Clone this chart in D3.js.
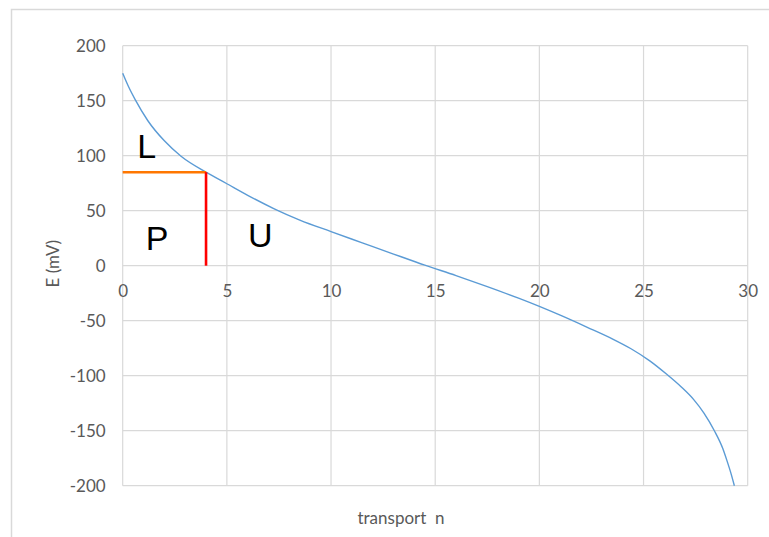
<!DOCTYPE html>
<html>
<head>
<meta charset="utf-8">
<script src="https://cdn.jsdelivr.net/npm/d3@7"></script>
<style>
  html, body { margin: 0; padding: 0; background: #ffffff; }
  svg { display: block; }
</style>
</head>
<body>
<svg id="chart" width="769" height="537"></svg>
<script>
// ---- data ----
const transportN = [0, 0.3, 0.6, 1.2, 2.0, 2.8, 4.0, 5.0, 6.0, 7.3, 8.5, 10, 11.5, 13, 14.5, 16, 17.5, 19, 20, 21, 22.3, 23.5, 24.4, 25.3, 26.1, 26.8, 27.4, 27.9, 28.4, 28.8, 29.0, 29.2, 29.36];
const potentialE = [175, 162, 151, 132, 113.5, 99.5, 85, 74.5, 64, 51.5, 41.5, 31, 20.8, 10.6, 0.5, -9, -19, -29.5, -37, -45, -56, -66.5, -75.5, -86.5, -98.5, -110, -121.5, -134, -150, -166, -177, -189, -200];
const xTicks = [0, 5, 10, 15, 20, 25, 30];
const yTicks = [-200, -150, -100, -50, 0, 50, 100, 150, 200];
const markerN = [0, 4];      // orange horizontal line: from n=0 to n=4
const markerE = [0, 85];     // red vertical line: from E=0 to E=85
const regionLabels = ["L", "P", "U"];
const regionN = [1.15, 1.65, 6.6];
const regionE = [98, 14, 17];

// ---- layout ----
const svg = d3.select("#chart");
const pLeft = 122.7, pRight = 747.7, pTop = 45.7, pBottom = 485.7;
const x = d3.scaleLinear().domain([0, 30]).range([pLeft, pRight]);
const y = d3.scaleLinear().domain([-200, 200]).range([pBottom, pTop]);
const font = "Lato, 'Open Sans', sans-serif";

// outer frame
svg.append("rect")
  .attr("x", 11.5).attr("y", 9.5).attr("width", 820).attr("height", 600)
  .attr("fill", "#ffffff").attr("stroke", "#d9d9d9").attr("stroke-width", 1.5);

// gridlines
svg.append("g").selectAll("line").data(yTicks).join("line")
  .attr("x1", pLeft).attr("x2", pRight)
  .attr("y1", d => y(d)).attr("y2", d => y(d))
  .attr("stroke", "#d9d9d9").attr("stroke-width", 1.2);
svg.append("g").selectAll("line").data(xTicks).join("line")
  .attr("y1", pTop).attr("y2", pBottom)
  .attr("x1", d => x(d)).attr("x2", d => x(d))
  .attr("stroke", "#d9d9d9").attr("stroke-width", 1.2);

// axes via d3 axis generators (labels only)
const fmt = d => String(d);
const yAxis = svg.append("g").attr("transform", `translate(${pLeft - 17},0)`)
  .call(d3.axisLeft(y).tickValues(yTicks).tickSize(0).tickPadding(0).tickFormat(fmt));
yAxis.select(".domain").remove();
yAxis.selectAll("text").attr("font-family", font).attr("font-size", 17).attr("fill", "#595959");

const xAxis = svg.append("g").attr("transform", `translate(0,${y(0)})`)
  .call(d3.axisBottom(x).tickValues(xTicks).tickSize(0).tickPadding(19).tickFormat(fmt));
xAxis.select(".domain").remove();
xAxis.selectAll("text").attr("font-family", font).attr("font-size", 17).attr("fill", "#595959");

// curve
const line = d3.line().x(d => x(d[0])).y(d => y(d[1])).curve(d3.curveMonotoneX);
svg.append("path")
  .datum(transportN.map((n, i) => [n, potentialE[i]]))
  .attr("d", line)
  .attr("fill", "none").attr("stroke", "#5B9BD5").attr("stroke-width", 1.4);

// marker lines
svg.append("line")
  .attr("x1", x(markerN[0])).attr("x2", x(markerN[1]))
  .attr("y1", y(markerE[1])).attr("y2", y(markerE[1]))
  .attr("stroke", "#FF7700").attr("stroke-width", 2.6);
svg.append("line")
  .attr("x1", x(markerN[1])).attr("x2", x(markerN[1]))
  .attr("y1", y(markerE[0])).attr("y2", y(markerE[1]))
  .attr("stroke", "#FF0000").attr("stroke-width", 2.6);

// region labels
svg.append("g").selectAll("text").data(regionLabels).join("text")
  .attr("x", (d, i) => x(regionN[i]))
  .attr("y", (d, i) => y(regionE[i]))
  .attr("text-anchor", "middle")
  .attr("font-family", "Arial, 'Liberation Sans', sans-serif")
  .attr("font-size", 34)
  .attr("fill", "#000000")
  .text(d => d);

// axis titles
svg.append("text")
  .attr("transform", `translate(59,${(pTop + pBottom) / 2 - 2}) rotate(-90)`)
  .attr("text-anchor", "middle")
  .attr("font-family", font).attr("font-size", 17).attr("fill", "#595959")
  .text("E (mV)");
svg.append("text")
  .attr("x", 401).attr("y", 524)
  .attr("text-anchor", "middle")
  .attr("font-family", font).attr("font-size", 17).attr("fill", "#595959")
  .attr("xml:space", "preserve")
  .style("white-space", "pre")
  .text("transport  n");
</script>
</body>
</html>
